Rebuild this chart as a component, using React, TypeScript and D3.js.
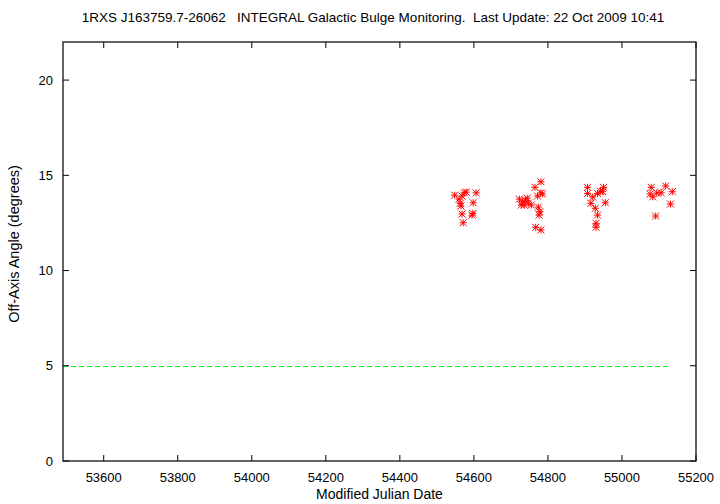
import * as d3 from "d3";

const WIDTH = 720;
const HEIGHT = 504;
const MARGIN = { top: 42, right: 24, bottom: 43, left: 63 };

const TITLE =
  "1RXS J163759.7-26062   INTEGRAL Galactic Bulge Monitoring.  Last Update: 22 Oct 2009 10:41";

// observation dates (MJD) and off-axis angles (degrees)
const mjd = [
  54548, 54574, 54579, 54606, 54563, 54565, 54598, 54568, 54597, 54595, 54571, 54560, 54568,
  54723, 54731, 54739, 54747, 54755, 54728, 54744, 54736, 54765, 54781, 54781, 54785, 54774,
  54778, 54776, 54767, 54781, 54772,
  54907, 54907, 54934, 54950, 54948, 54916, 54928, 54934, 54930, 54930, 54955, 54942, 54921,
  55079, 55076, 55083, 55106, 55118, 55136, 55131, 55091, 55094,
];
const angle = [
  13.96, 14.08, 14.12, 14.08, 13.53, 13.39, 13.56, 12.97, 13.0, 12.91, 12.51, 13.75, 13.91,
  13.75, 13.6, 13.7, 13.54, 13.44, 13.44, 13.8, 13.44, 14.37, 14.66, 14.08, 14.02, 13.33,
  13.09, 12.91, 12.27, 12.13, 13.91,
  14.37, 14.05, 14.05, 14.37, 14.14, 13.53, 13.27, 12.91, 12.48, 12.27, 13.56, 14.17, 13.86,
  14.37, 14.02, 13.87, 14.08, 14.44, 14.14, 13.49, 12.86, 14.07,
];

const xTicks = [53600, 53800, 54000, 54200, 54400, 54600, 54800, 55000, 55200];
const yTicks = [0, 5, 10, 15, 20];
const X_DOMAIN = [53490, 55200];
const Y_DOMAIN = [0, 22];
const LIMIT_ANGLE = 5;
const LIMIT_END = 55130;

const FONT = "'Liberation Sans', Arial, sans-serif";
const TICK = 6;

export default function App() {
  const boundsWidth = WIDTH - MARGIN.left - MARGIN.right;
  const boundsHeight = HEIGHT - MARGIN.top - MARGIN.bottom;

  const xScale = d3.scaleLinear().domain(X_DOMAIN).range([0, boundsWidth]);
  const yScale = d3.scaleLinear().domain(Y_DOMAIN).range([boundsHeight, 0]);

  // gnuplot point type 3: plus and cross on top of each other
  const star = (r: number) => {
    const p = d3.path();
    p.moveTo(-r, 0); p.lineTo(r, 0);
    p.moveTo(0, -r); p.lineTo(0, r);
    p.moveTo(-r, -r); p.lineTo(r, r);
    p.moveTo(-r, r); p.lineTo(r, -r);
    return p.toString();
  };
  const marker = star(3.5);

  // snap the limit line to the pixel centre so it stays bright
  const limitY = Math.round(yScale(LIMIT_ANGLE)) + 0.5;

  return (
    <svg
      width={WIDTH}
      height={HEIGHT}
      style={{ position: "absolute", left: 0, top: 0, background: "#fff" }}
    >
      <text
        x={373}
        y={22}
        textAnchor="middle"
        fontFamily={FONT}
        fontSize={13.5}
        style={{ whiteSpace: "pre" }}
      >
        {TITLE}
      </text>
      <g transform={`translate(${MARGIN.left},${MARGIN.top})`}>
        {/* limit line */}
        <line
          x1={xScale(X_DOMAIN[0])}
          x2={xScale(LIMIT_END)}
          y1={limitY}
          y2={limitY}
          stroke="#00ff00"
          strokeDasharray="5,3"
        />
        {/* ticks, mirrored */}
        {xTicks.map((t) => (
          <g key={"x" + t}>
            <line x1={xScale(t)} x2={xScale(t)} y1={boundsHeight} y2={boundsHeight - TICK} stroke="#000" />
            <line x1={xScale(t)} x2={xScale(t)} y1={0} y2={TICK} stroke="#000" />
            <text
              x={xScale(t)}
              y={boundsHeight + 21}
              textAnchor="middle"
              fontFamily={FONT}
              fontSize={13}
            >
              {t}
            </text>
          </g>
        ))}
        {yTicks.map((t) => (
          <g key={"y" + t}>
            <line x1={0} x2={TICK} y1={yScale(t)} y2={yScale(t)} stroke="#000" />
            <line x1={boundsWidth} x2={boundsWidth - TICK} y1={yScale(t)} y2={yScale(t)} stroke="#000" />
            <text
              x={-10}
              y={yScale(t)}
              textAnchor="end"
              dominantBaseline="central"
              fontFamily={FONT}
              fontSize={13}
            >
              {t}
            </text>
          </g>
        ))}
        {mjd.map((d, i) => (
          <path
            key={i}
            d={marker}
            transform={`translate(${xScale(d)},${yScale(angle[i])})`}
            stroke="#ff0000"
            strokeWidth={1}
            fill="none"
          />
        ))}
        <rect
          x={0}
          y={0}
          width={boundsWidth}
          height={boundsHeight}
          fill="none"
          stroke="#111"
          strokeWidth={1.3}
        />
      </g>
      <text
        x={MARGIN.left + boundsWidth / 2}
        y={HEIGHT - 5}
        textAnchor="middle"
        fontFamily={FONT}
        fontSize={14}
      >
        Modified Julian Date
      </text>
      <text
        transform={`translate(19,244) rotate(-90)`}
        textAnchor="middle"
        fontFamily={FONT}
        fontSize={14.5}
      >
        Off-Axis Angle (degrees)
      </text>
    </svg>
  );
}
